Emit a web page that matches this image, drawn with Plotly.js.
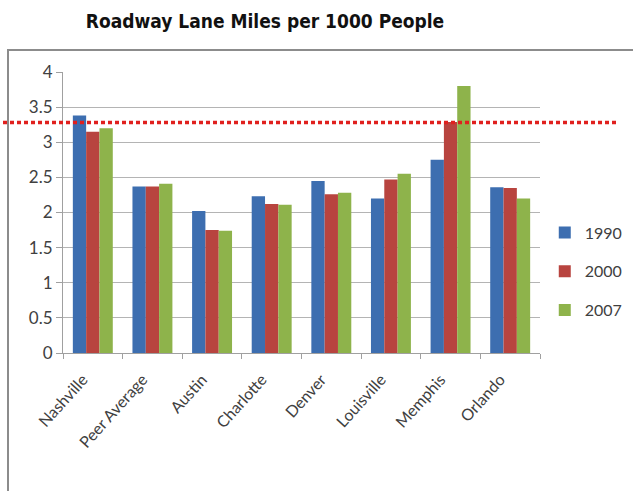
<!DOCTYPE html>
<html>
<head>
<meta charset="utf-8">
<script src="https://cdn.plot.ly/plotly-3.0.1.min.js"></script>
<style>html,body{margin:0;padding:0;background:#fff;}#chart{width:633px;height:491px;}</style>
</head>
<body>
<div id="chart"></div>
<script>
var categories = ["Nashville", "Peer Average", "Austin", "Charlotte", "Denver", "Louisville", "Memphis", "Orlando"];
var values1990 = [3.38, 2.37, 2.02, 2.23, 2.45, 2.20, 2.75, 2.36];
var values2000 = [3.15, 2.37, 1.75, 2.12, 2.26, 2.47, 3.29, 2.35];
var values2007 = [3.20, 2.41, 1.74, 2.11, 2.28, 2.55, 3.80, 2.20];
var seriesNames = ["1990", "2000", "2007"];
var seriesColors = ["#3D6EB0", "#B8443F", "#8EB34B"];
var referenceLevel = 3.28;
var yTicks = [0, 0.5, 1, 1.5, 2, 2.5, 3, 3.5, 4];
var yTickText = ["0", "0.5", "1", "1.5", "2", "2.5", "3", "3.5", "4"];

var allValues = [values1990, values2000, values2007];
var traces = allValues.map(function (vals, i) {
  return {
    type: "bar",
    x: categories,
    y: vals,
    name: seriesNames[i],
    legendgroup: seriesNames[i],
    marker: { color: seriesColors[i], line: { width: 0 } },
    hoverinfo: "x+y+name"
  };
});

var font = "Lato, 'Liberation Sans', Arial, sans-serif";

var layout = {
  width: 633,
  height: 491,
  paper_bgcolor: "#ffffff",
  plot_bgcolor: "#ffffff",
  margin: { l: 63, r: 93, t: 72, b: 138, autoexpand: false },
  barmode: "group",
  bargap: 0.33,
  bargroupgap: 0,
  title: {
    text: "<b>Roadway Lane Miles per 1000 People</b>",
    font: { family: "'DejaVu Sans Condensed', 'Liberation Sans', Arial, sans-serif", size: 19, color: "#111111" },
    x: 265 / 633, xref: "container", xanchor: "center",
    y: 1 - 21 / 491, yref: "container", yanchor: "middle"
  },
  xaxis: {
    type: "category",
    tickangle: -48,
    ticks: "outside",
    tickson: "boundaries",
    ticklen: 5,
    tickcolor: "#a0a0a0",
    ticklabelstandoff: 10,
    ticklabelshift: -10,
    showline: true,
    linecolor: "#a0a0a0",
    linewidth: 1,
    showgrid: false,
    automargin: false,
    tickfont: { family: font, size: 16, color: "#404040" },
    fixedrange: true
  },
  yaxis: {
    range: [0, 4],
    tickvals: yTicks,
    ticktext: yTickText,
    ticks: "outside",
    ticklen: 6,
    tickcolor: "#a0a0a0",
    showline: true,
    linecolor: "#a0a0a0",
    linewidth: 1,
    showgrid: true,
    gridcolor: "#b4b4b4",
    gridwidth: 1,
    zeroline: false,
    automargin: false,
    tickfont: { family: font, size: 17, color: "#404040" },
    fixedrange: true
  },
  legend: {
    x: 1.01, xanchor: "left",
    y: 0.29, yanchor: "middle",
    traceorder: "grouped",
    tracegroupgap: 15,
    font: { family: font, size: 16, color: "#404040" },
    bgcolor: "rgba(0,0,0,0)",
    itemwidth: 30
  },
  shapes: [
    {
      type: "rect", xref: "paper", yref: "paper",
      x0: (8 - 63) / 477, x1: 1.5,
      y0: -1, y1: (353 - 50) / 281,
      line: { color: "#8c8c8c", width: 2 },
      fillcolor: "rgba(0,0,0,0)",
      layer: "below"
    },
    {
      type: "line", xref: "paper", yref: "y",
      x0: (3 - 63) / 477, x1: (616 - 63) / 477,
      y0: referenceLevel, y1: referenceLevel,
      line: { color: "#E0201E", width: 3.5, dash: "4px,3px" },
      layer: "above"
    }
  ],
  showlegend: true
};

Plotly.newPlot("chart", traces, layout, { displayModeBar: false, staticPlot: true });
</script>
</body>
</html>
